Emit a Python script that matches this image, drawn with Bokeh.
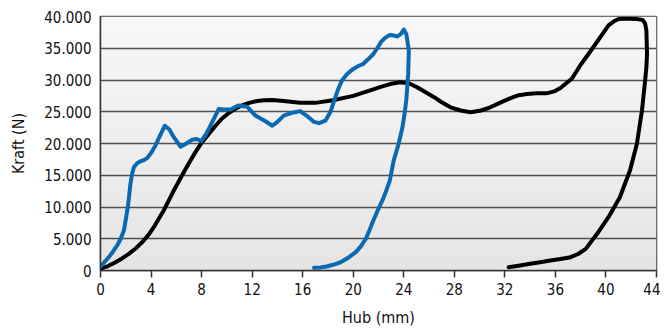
import numpy as np
from bokeh.plotting import figure
from bokeh.models import FixedTicker, Range1d
from bokeh.embed import file_html
from bokeh.resources import INLINE

# ---- data ----
black_x = [0, 0.6, 1.19, 1.7, 2.24, 2.8, 3.3, 3.8, 4.22, 4.6, 5.0, 5.4, 5.8, 6.2, 6.6, 7.05, 7.5,
           8.0, 8.57, 9.1, 9.6, 10.15, 10.7, 11.2, 11.7, 12.3, 12.9, 13.6, 14.5, 15.8, 17.0, 18.4,
           20.0, 21.1, 22.3, 23.0, 23.7, 24.4, 25.05, 25.7, 26.4, 27.0, 27.7, 28.5, 29.3, 30.1,
           30.85, 31.6, 32.4, 33.1, 33.76, 34.5, 35.3, 35.9, 36.4, 36.8, 37.3, 38.0, 38.8, 39.5,
           40.2, 40.6, 41.0, 41.5, 41.9, 42.4, 42.9, 43.1, 43.2, 43.25, 43.2, 43.1, 42.85, 42.45,
           41.9, 41.1, 40.2, 39.3, 38.4, 37.8, 37.2, 36.4, 35.6, 34.8, 34.0, 33.2, 32.3]
black_y = [300, 700, 1310, 1900, 2620, 3500, 4460, 5600, 6820, 8100, 9450, 11000, 12600, 14050,
           15500, 17100, 18600, 20100, 21500, 22800, 23900, 24800, 25500, 26000, 26350, 26650,
           26800, 26850, 26700, 26400, 26400, 26800, 27500, 28200, 29000, 29400, 29650, 29500,
           28870, 28100, 27300, 26500, 25700, 25200, 24930, 25200, 25700, 26400, 27100, 27600,
           27800, 27900, 27900, 28200, 28750, 29400, 30200, 32400, 34600, 36600, 38600, 39200,
           39600, 39650, 39650, 39600, 39470, 38900, 37800, 34100, 32000, 29900, 25200, 19950,
           15750, 11540, 8400, 5780, 3410, 2600, 2100, 1800, 1570, 1300, 1050, 800, 520]

blue_x = [0, 0.3, 0.66, 1.0, 1.32, 1.6, 1.85, 2.0, 2.16, 2.27, 2.37, 2.5, 2.64, 2.9, 3.16, 3.45,
          3.69, 4.0, 4.35, 4.75, 5.09, 5.45, 5.8, 6.33, 6.8, 7.25, 7.6, 7.99, 8.3, 8.57, 9.0, 9.36,
          9.8, 10.3, 10.9, 11.6, 12.26, 13.05, 13.6, 14.0, 14.5, 15.1, 15.8, 16.3, 16.9, 17.3, 17.8,
          18.2, 18.5, 18.8, 19.1, 19.5, 20.0, 20.4, 20.8, 21.2, 21.6, 21.9, 22.2, 22.5, 22.9, 23.2,
          23.5, 23.8, 24.0, 24.2, 24.4, 24.35, 24.2, 24.05, 23.9, 23.6, 23.2, 22.9, 22.6, 22.3,
          21.9, 21.6, 21.3, 21.0, 20.6, 20.2, 19.6, 19.0, 18.4, 17.9, 17.4, 16.9]
blue_y = [600, 1300, 2100, 3000, 3940, 5000, 6300, 8000, 9970, 11800, 13650, 15200, 16270, 16900,
          17200, 17400, 17700, 18500, 19700, 21400, 22800, 22200, 21000, 19500, 20000, 20600,
          20700, 20400, 21300, 22300, 24000, 25450, 25350, 25350, 26000, 25800, 24400, 23500,
          22800, 23400, 24400, 24800, 25100, 24400, 23400, 23200, 23600, 25000, 26800, 28500,
          29900, 30900, 31750, 32200, 32550, 33300, 34100, 35000, 36000, 36600, 37100, 37000,
          36850, 37300, 37950, 37250, 34650, 31000, 26800, 24500, 22600, 20000, 17300, 14200,
          12500, 11000, 9300, 7900, 6400, 5000, 3800, 2900, 2000, 1300, 900, 630, 480, 420]

x_ticks = [0, 4, 8, 12, 16, 20, 24, 28, 32, 36, 40, 44]
y_ticks = [0, 5000, 10000, 15000, 20000, 25000, 30000, 35000, 40000]
y_tick_labels = ["0", "5.000", "10.000", "15.000", "20.000", "25.000", "30.000", "35.000", "40.000"]
X_MAX = 44
Y_MAX = 40000

FONT = "DejaVu Sans Condensed"

p = figure(width=660, height=330, output_backend="svg", toolbar_location=None,
           x_range=Range1d(0, X_MAX), y_range=Range1d(0, Y_MAX),
           min_border_left=100, min_border_right=4, min_border_top=16, min_border_bottom=60)

# background gradient
n = 100
g = np.linspace(229, 248, n).astype(np.uint32)
img = np.empty((n, 1), dtype=np.uint32)
view = img.view(dtype=np.uint8).reshape((n, 1, 4))
view[:, 0, 0] = g
view[:, 0, 1] = g
view[:, 0, 2] = g
view[:, 0, 3] = 255
p.image_rgba(image=[img], x=0, y=0, dw=X_MAX, dh=Y_MAX, level="image")

p.background_fill_color = "#eeeeee"
p.border_fill_color = "white"
p.outline_line_color = "#444444"
p.outline_line_width = 1.5

p.xgrid.visible = False
p.ygrid.ticker = FixedTicker(ticks=y_ticks)
p.ygrid.grid_line_color = "#505050"
p.ygrid.grid_line_width = 1.5
p.ygrid.level = "underlay"

p.line(black_x, black_y, line_color="black", line_width=4, line_join="round", line_cap="round")
p.line(blue_x, blue_y, line_color="#0b69b2", line_width=4, line_join="round", line_cap="round")

# x axis
p.xaxis.ticker = FixedTicker(ticks=x_ticks)
p.xaxis.axis_label = "Hub (mm)"
p.xaxis.major_tick_out = 7
p.xaxis.major_tick_in = 0
p.xaxis.minor_tick_out = 0
p.xaxis.minor_tick_in = 0
p.xaxis.major_tick_line_color = "#333333"
p.xaxis.major_tick_line_width = 1.5
p.xaxis.axis_line_color = "#333333"
p.xaxis.axis_line_width = 1.5
p.xaxis.major_label_standoff = 5
p.xaxis.axis_label_standoff = 10

# y axis
p.yaxis.ticker = FixedTicker(ticks=y_ticks)
p.yaxis.major_label_overrides = {t: l for t, l in zip(y_ticks, y_tick_labels)}
p.yaxis.axis_label = "Kraft (N)"
p.yaxis.major_tick_out = 0
p.yaxis.major_tick_in = 0
p.yaxis.minor_tick_out = 0
p.yaxis.minor_tick_in = 0
p.yaxis.axis_line_color = "#333333"
p.yaxis.axis_line_width = 1.5
p.yaxis.major_label_standoff = 9
p.yaxis.axis_label_standoff = 13

for ax in (p.xaxis, p.yaxis):
    ax.major_label_text_font = FONT
    ax.major_label_text_font_size = "15px"
    ax.major_label_text_color = "#111111"
    ax.axis_label_text_font = FONT
    ax.axis_label_text_font_size = "16px"
    ax.axis_label_text_font_style = "normal"
    ax.axis_label_text_color = "#111111"

open("out.html", "w").write(file_html(p, INLINE))
